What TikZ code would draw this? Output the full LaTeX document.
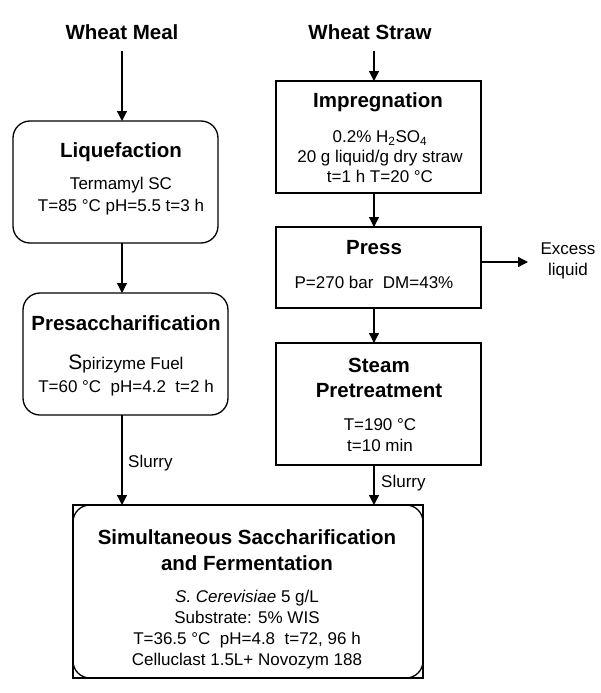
\documentclass[tikz,border=0pt]{standalone}
\usepackage{fontspec}
\setmainfont{Liberation Sans}
\usetikzlibrary{arrows.meta}
\tikzset{
  x=1pt, y=-1pt,
  box/.style={draw, line width=1.3pt, inner sep=0pt, outer sep=0pt},
  rbox/.style={box, rounded corners=17pt},
  ttl/.style={inner sep=0pt, align=center, font=\fontsize{20.5}{25}\selectfont\bfseries},
  bodytxt/.style={inner sep=0pt, align=center, font=\fontsize{17}{21}\selectfont},
  arr/.style={line width=1.3pt, -{Triangle[length=10pt,width=10pt]}}
}
\begin{document}
\begin{tikzpicture}
\useasboundingbox (0,0) rectangle (600,693);
% column coordinates
\coordinate (lx) at (122,0);
\coordinate (rx) at (374,0);
% headings
\node[ttl] (wm) at (122,32) {Wheat Meal};
\node[ttl] (ws) at (370,32) {Wheat Straw};
% boxes
\node[rbox, minimum width=205pt, minimum height=122pt] (liq) at (115.5,182) {};
\node[rbox, minimum width=205pt, minimum height=122pt] (pre) at (125.5,354) {};
\node[box, minimum width=205pt, minimum height=112pt] (imp) at (378.5,137) {};
\node[box, minimum width=205pt, minimum height=81pt] (press) at (378.5,267.5) {};
\node[box, minimum width=205pt, minimum height=122pt] (steam) at (378.5,404) {};
\node[rbox, minimum width=350pt, minimum height=173pt] (ssf) at (248,591.5) {};
\draw[line width=1.3pt] (ssf.north west) rectangle (ssf.south east);
% texts
\node[ttl] (liqt) at (121,152) {Liquefaction};
\node[bodytxt, font=\fontsize{17}{22}\selectfont] (liqb) at (121,196) {Termamyl SC\\T=85 °C pH=5.5 t=3 h};
\node[ttl] (pret) at (126,323) {Presaccharification};
\node[bodytxt, font=\fontsize{17}{23}\selectfont] (preb) at (126,375) {{\fontsize{21}{23}\selectfont S}pirizyme Fuel\\T=60 °C\ \ pH=4.2\ \ t=2 h};
\node[ttl] (impt) at (378,102) {Impregnation};
\node[bodytxt, font=\fontsize{17}{20}\selectfont] (impb) at (380,157) {0.2\% H\textsubscript{2}SO\textsubscript{4}\\20 g liquid/g dry straw\\t=1 h T=20 °C};
\node[ttl] (presst) at (374,248) {Press};
\node[bodytxt] (pressb) at (374,282) {P=270 bar\ \ DM=43\%};
\node[ttl] (steamt) at (379,377.5) {Steam\\Pretreatment};
\node[bodytxt] (steamb) at (380,435.5) {T=190 °C\\t=10 min};
\node[ttl, font=\fontsize{20.5}{26}\selectfont\bfseries] (ssft) at (247,550) {Simultaneous Saccharification\\and Fermentation};
\node[bodytxt] (ssfb) at (247,629.5) {\textit{S. Cerevisiae} 5 g/L\\Substrate: 5\% WIS\\T=36.5 °C\ \ pH=4.8\ \ t=72, 96 h\\Celluclast 1.5L+ Novozym 188};
\node[bodytxt, anchor=west] (sl1) at (128,463) {Slurry};
\node[bodytxt, anchor=west] (sl2) at (381,483) {Slurry};
\node[bodytxt] (exl) at (568,261) {Excess\\liquid};
% connectors
\draw[arr] ([yshift=-11pt]wm.south -| lx) -- (liq.north -| lx);
\draw[arr] (liq.south -| lx) -- (pre.north -| lx);
\draw[arr] (pre.south -| lx) -- (ssf.north -| lx);
\draw[arr] ([yshift=-11pt]ws.south -| rx) -- (imp.north -| rx);
\draw[arr] (imp.south -| rx) -- (press.north -| rx);
\draw[arr] (press.south -| rx) -- (steam.north -| rx);
\draw[arr] (steam.south -| rx) -- (ssf.north -| rx);
\coordinate (exy) at (0,262);
\coordinate (exend) at (528,262);
\draw[arr] (press.east |- exy) -- (exend);
\end{tikzpicture}
\end{document}
